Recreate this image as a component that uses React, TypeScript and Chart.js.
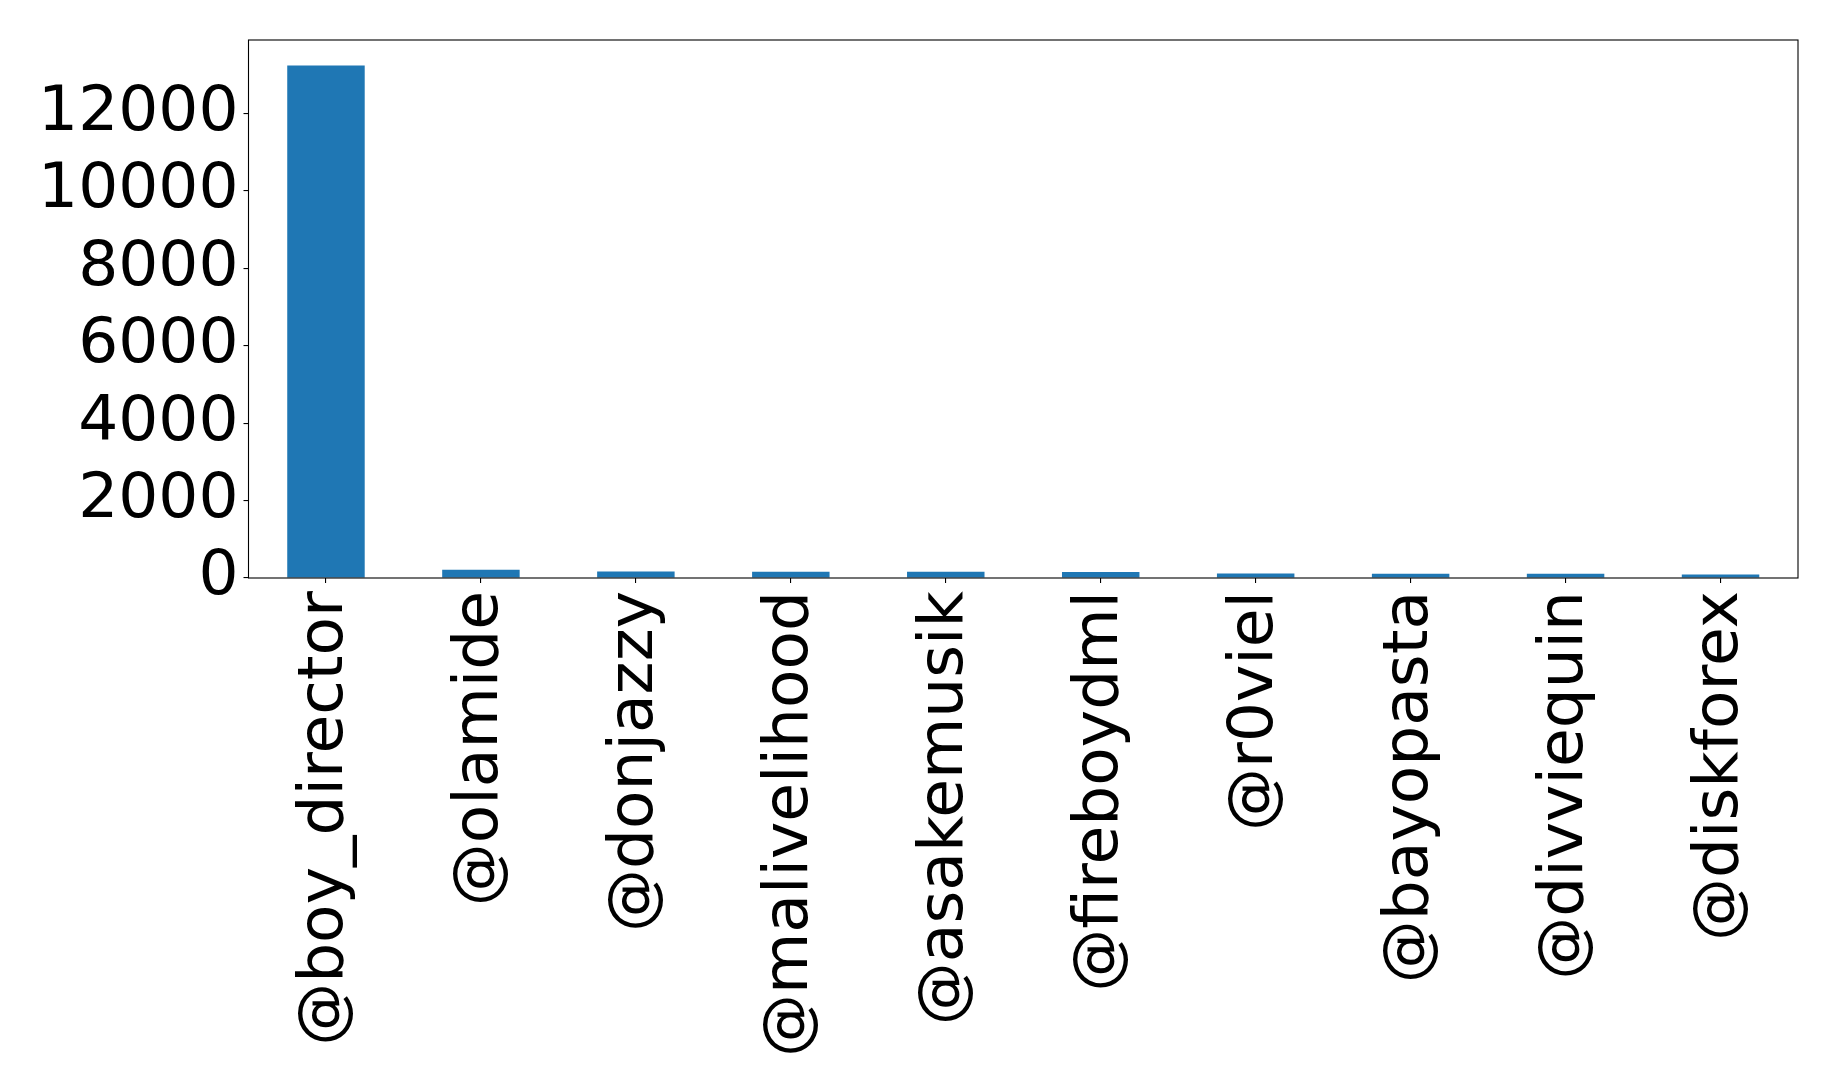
import React, { useEffect, useRef } from "react";
import { Chart, registerables } from "chart.js";

Chart.register(...registerables);

const categories = [
  "@boy_director",
  "@olamide",
  "@donjazzy",
  "@malivelihood",
  "@asakemusik",
  "@fireboydml",
  "@r0viel",
  "@bayopasta",
  "@divviequin",
  "@diskforex",
];
const counts = [13240, 215, 165, 162, 160, 158, 115, 112, 110, 88];
const yTicks = [0, 2000, 4000, 6000, 8000, 10000, 12000];
const yMax = 13900;

const framePlugin = {
  id: "frame",
  afterDraw(chart: any) {
    const { ctx, chartArea } = chart;
    ctx.save();
    ctx.strokeStyle = "#000";
    ctx.lineWidth = 1.1;
    ctx.strokeRect(chartArea.left, chartArea.top, chartArea.right - chartArea.left, chartArea.bottom - chartArea.top);
    ctx.restore();
  },
};

export default function App() {
  const ref = useRef<HTMLCanvasElement | null>(null);
  useEffect(() => {
    if (!ref.current) return;
    const font = { family: "DejaVu Sans", size: 63 };
    const chart = new Chart(ref.current, {
      type: "bar",
      data: {
        labels: categories,
        datasets: [
          {
            data: counts,
            backgroundColor: "#1f77b4",
            categoryPercentage: 1,
            barPercentage: 0.5,
          },
        ],
      },
      options: {
        animation: false,
        responsive: false,
        devicePixelRatio: 1,
        layout: { padding: { top: 40, right: 40, left: 0, bottom: 0 } },
        plugins: { legend: { display: false }, tooltip: { enabled: false } },
        scales: {
          x: {
            offset: true,
            grid: { offset: false, drawOnChartArea: false, drawTicks: true, tickLength: 5, tickColor: "#000", lineWidth: 1.1 },
            border: { display: false },
            ticks: { color: "#000", font, maxRotation: 90, minRotation: 90, padding: 8, autoSkip: false },
            afterFit: (s: any) => {
              s.height = 512;
              s.paddingLeft = 0;
              s.paddingRight = 0;
            },
          },
          y: {
            min: 0,
            max: yMax,
            grid: { drawOnChartArea: false, drawTicks: true, tickLength: 5, tickColor: "#000", lineWidth: 1.1 },
            border: { display: false },
            ticks: {
              color: "#000",
              font,
              padding: 5,
              stepSize: 2000,
              includeBounds: false,
              callback: (v: any) => String(v),
            },
            afterBuildTicks: (s: any) => {
              s.ticks = yTicks.map((v) => ({ value: v }));
            },
            afterFit: (s: any) => {
              s.width = 248.5;
              s.paddingTop = 0;
              s.paddingBottom = 0;
            },
          },
        },
      },
      plugins: [framePlugin],
    });
    return () => chart.destroy();
  }, []);
  return (
    <div style={{ position: "fixed", left: 0, top: 0, width: 1838, height: 1090, background: "#fff" }}>
      <canvas ref={ref} width={1838} height={1090} style={{ width: 1838, height: 1090 }} />
    </div>
  );
}
